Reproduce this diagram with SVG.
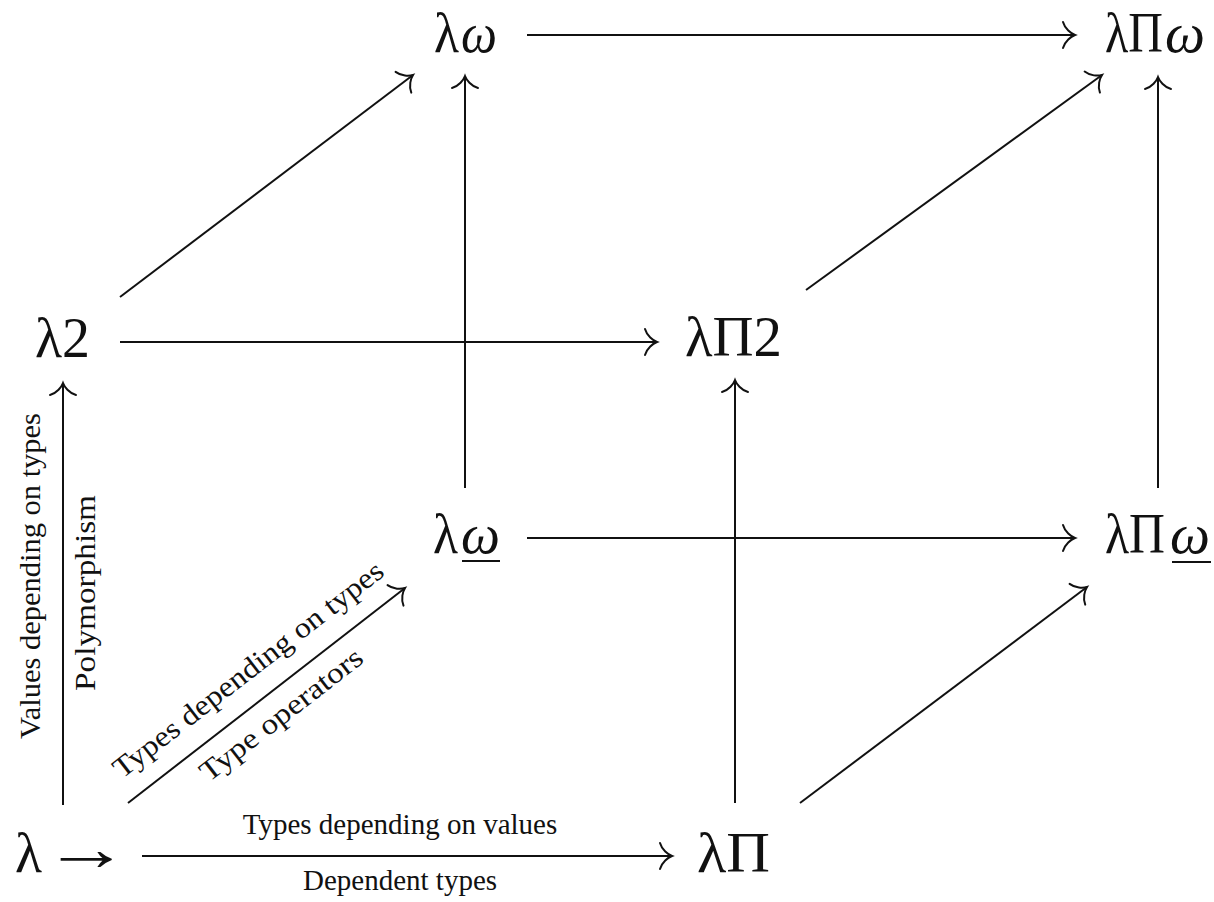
<svg xmlns="http://www.w3.org/2000/svg" width="1214" height="902" viewBox="0 0 1214 902">
<style>
.n{font-family:"Liberation Serif","DejaVu Serif",serif;font-size:58px;fill:#111}
.w{font-style:italic}
.l{font-family:"Liberation Serif","DejaVu Serif",serif;font-size:29px;fill:#111;text-anchor:middle}
.e{stroke:#111;stroke-width:2;fill:none;marker-end:url(#ah)}
.u{stroke:#111;stroke-width:2}
</style>
<defs>
<marker id="ah" markerUnits="userSpaceOnUse" viewBox="-16 -16 20 32" markerWidth="20" markerHeight="32" refX="0" refY="0" orient="auto">
<path d="M-12,-13 C-10,-6 -4,-1.5 0,0 C-4,1.5 -10,6 -12,13" fill="none" stroke="#111" stroke-width="2" stroke-linecap="round"/>
</marker>
</defs>
<rect width="1214" height="902" fill="#fff"/>
<g id="connectors">
<line class="e" x1="142" y1="856" x2="672" y2="856"/>
<line class="e" x1="63" y1="805" x2="63" y2="383"/>
<line class="e" x1="128" y1="803" x2="405" y2="588"/>
<line class="e" x1="735" y1="803" x2="735" y2="380"/>
<line class="e" x1="800" y1="803" x2="1087" y2="587"/>
<line class="e" x1="120" y1="342" x2="657" y2="342"/>
<line class="e" x1="120" y1="297" x2="413" y2="75"/>
<line class="e" x1="806" y1="290" x2="1102" y2="75"/>
<line class="e" x1="465" y1="488" x2="465" y2="76"/>
<line class="e" x1="527" y1="538" x2="1075" y2="538"/>
<line class="e" x1="1158" y1="488" x2="1158" y2="77"/>
<line class="e" x1="527" y1="35" x2="1075" y2="35"/>
</g>
<g id="labels">
<text class="l" x="400" y="834">Types depending on values</text>
<text class="l" x="400" y="890">Dependent types</text>
<text class="l" transform="translate(40,576) rotate(-90)" textLength="326" lengthAdjust="spacingAndGlyphs">Values depending on types</text>
<text class="l" transform="translate(95,593) rotate(-90)" textLength="196" lengthAdjust="spacingAndGlyphs">Polymorphism</text>
<text class="l" transform="translate(254,677) rotate(-37.8)" textLength="334" lengthAdjust="spacingAndGlyphs">Types depending on types</text>
<text class="l" transform="translate(287,722) rotate(-37.8)" textLength="198" lengthAdjust="spacingAndGlyphs">Type operators</text>
</g>
<g id="lambda-arrow"><text class="n" x="15" y="872" textLength="27" lengthAdjust="spacingAndGlyphs">λ</text><text class="n" transform="translate(43,870) scale(1.35,1)" x="0" y="0" style="font-size:64px">→</text></g>
<g id="lambda-pi"><text class="n" x="697" y="872" textLength="73" lengthAdjust="spacingAndGlyphs">λΠ</text></g>
<g id="lambda-2"><text class="n" x="35" y="357" textLength="55" lengthAdjust="spacingAndGlyphs">λ2</text></g>
<g id="lambda-pi-2"><text class="n" x="685" y="356" textLength="97" lengthAdjust="spacingAndGlyphs">λΠ2</text></g>
<g id="lambda-omega"><text class="n" x="434" y="52" textLength="25" lengthAdjust="spacingAndGlyphs">λ</text><text class="n w" x="461" y="52" textLength="36" lengthAdjust="spacingAndGlyphs">ω</text></g>
<g id="lambda-pi-omega"><text class="n" x="1105" y="52" textLength="58" lengthAdjust="spacingAndGlyphs">λΠ</text><text class="n w" x="1165" y="52" textLength="40" lengthAdjust="spacingAndGlyphs">ω</text></g>
<g id="lambda-omega-under"><text class="n" x="433" y="553" textLength="25" lengthAdjust="spacingAndGlyphs">λ</text><text class="n w" x="461" y="553" textLength="39" lengthAdjust="spacingAndGlyphs">ω</text><line class="u" x1="462" y1="561" x2="500" y2="561"/></g>
<g id="lambda-pi-omega-under"><text class="n" x="1105" y="553" textLength="60" lengthAdjust="spacingAndGlyphs">λΠ</text><text class="n w" x="1170" y="553" textLength="40" lengthAdjust="spacingAndGlyphs">ω</text><line class="u" x1="1172" y1="562" x2="1211" y2="562"/></g>
</svg>
